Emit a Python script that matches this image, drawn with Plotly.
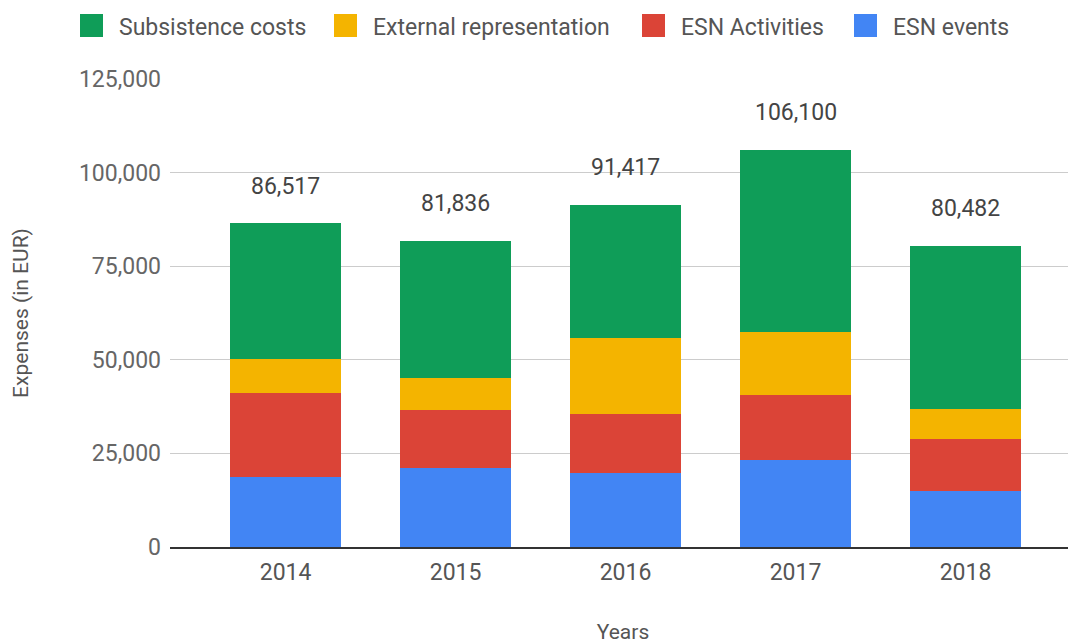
import plotly.graph_objects as go

years = ["2014", "2015", "2016", "2017", "2018"]
esn_events = [18700, 21200, 19700, 23200, 15000]
esn_activities = [22400, 15300, 15700, 17400, 13800]
external_representation = [9100, 8700, 20500, 16800, 8100]
subsistence_costs = [36317, 36636, 35517, 48700, 43582]
totals = [86517, 81836, 91417, 106100, 80482]

series = [
    ("ESN events", esn_events, "#4285F4"),
    ("ESN Activities", esn_activities, "#DB4437"),
    ("External representation", external_representation, "#F4B400"),
    ("Subsistence costs", subsistence_costs, "#0F9D58"),
]

fig = go.Figure()
for name, vals, color in series:
    fig.add_trace(go.Bar(
        x=years, y=vals, name=name, showlegend=False,
        marker=dict(color=color, line=dict(width=0)),
    ))

# totals above each stack (x given as category index)
for i, tot in enumerate(totals):
    fig.add_annotation(
        x=i, y=tot, text=f"{tot:,}", showarrow=False,
        yshift=37, font=dict(size=23, color="#444"),
    )

# page body has an 8px margin, so the figure is 8px smaller than the window
W, H = 1068, 636
L, R, T, B = 162, 0, 71, 97
pw, ph = W - L - R, H - T - B


def px_x(x):
    return (x - 8 - L) / pw


def px_y(y):
    return (H - B - (y - 8)) / ph


# legend drawn by hand: big swatches like the original
legend_x = [80, 334, 642, 854]
for (name, _, color), lx in zip(series[::-1], legend_x):
    fig.add_shape(
        type="rect", xref="paper", yref="paper",
        x0=px_x(lx), x1=px_x(lx + 23), y0=px_y(37), y1=px_y(14),
        fillcolor=color, line=dict(width=0),
    )
    fig.add_annotation(
        xref="paper", yref="paper", x=px_x(lx + 37), y=px_y(28),
        xanchor="left", yanchor="middle", showarrow=False,
        text=name, font=dict(size=23, color="#555"),
    )

fig.update_layout(
    barmode="stack",
    bargap=0.35,
    width=W, height=H,
    margin=dict(l=L, r=R, t=T, b=B),
    paper_bgcolor="white", plot_bgcolor="white",
    font=dict(family="Roboto", size=23, color="#666"),
    showlegend=False,
    xaxis=dict(
        type="category",
        range=[-0.68, 4.65],
        showgrid=False, automargin=False,
        showline=True, linecolor="#333", linewidth=2,
        ticks="", ticklabelstandoff=3, tickfont=dict(color="#555"),
        title=dict(text="Years", standoff=46, font=dict(size=21, color="#555")),
    ),
    yaxis=dict(
        range=[0, 125000], tickvals=[0, 25000, 50000, 75000, 100000, 125000],
        tickformat=",", gridcolor="#ccc", gridwidth=1, automargin=False,
        zeroline=False, ticks="", ticklabelstandoff=8,
        tickfont=dict(color="#666"),
        title=dict(text="Expenses (in EUR)", standoff=44, font=dict(size=21, color="#555")),
    ),
)

fig.write_html("out.html")
